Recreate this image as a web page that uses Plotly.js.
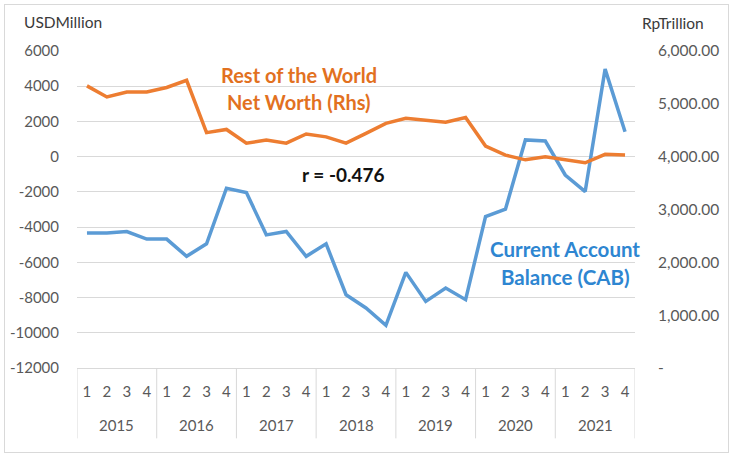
<!DOCTYPE html>
<html>
<head>
<meta charset="utf-8">
<script src="https://cdn.plot.ly/plotly-3.0.1.min.js"></script>
<style>
  html, body { margin: 0; padding: 0; background: #fff; }
  #wrap { position: relative; width: 732px; height: 457px; }
  #chart { width: 732px; height: 457px; }
  #frame { position: absolute; left: 4px; top: 4px; width: 723px; height: 447px;
           border: 1px solid #d9d9d9; pointer-events: none; }
</style>
</head>
<body>
<div id="wrap">
  <div id="chart"></div>
  <div id="frame"></div>
</div>
<script>
// Quarterly series, 2015Q1 - 2021Q4
const years = ["2015", "2016", "2017", "2018", "2019", "2020", "2021"];
const quarters = ["1", "2", "3", "4"];

// Current Account Balance, USD million (left axis)
const cab = [
  -4340, -4330, -4250, -4680,
  -4680, -5660, -4950, -1790,
  -2040, -4440, -4250, -5660,
  -4950, -7840, -8590, -9580,
  -6570, -8220, -7460, -8120,
  -3400, -2980, 950, 890,
  -1040, -1980, 4970, 1420
];

// Rest of the World net worth, Rp trillion (right axis)
const rowNetWorth = [
  5340, 5130, 5225, 5225,
  5310, 5445, 4455, 4515,
  4255, 4315, 4255, 4430,
  4375, 4255, 4440, 4630,
  4725, 4690, 4650, 4740,
  4200, 4030, 3940, 4000,
  3940, 3885, 4045, 4030
];

const leftTicks = [6000, 4000, 2000, 0, -2000, -4000, -6000, -8000, -10000, -12000];
const rightTicks = [0, 1000, 2000, 3000, 4000, 5000, 6000];
const rightTickText = ["-", "1,000.00", "2,000.00", "3,000.00", "4,000.00", "5,000.00", "6,000.00"];

// one slot per quarter; quarter numbers as tick labels, years grouped below
const xIdx = [], xQuarterText = [];
years.forEach(() => quarters.forEach(q => { xIdx.push(xIdx.length); xQuarterText.push(q); }));
const nQ = quarters.length;

const FONT = "Lato, 'Open Sans', sans-serif";
const ORANGE = "#ED7D31";
const BLUE = "#5B9BD5";
const GRID = "#d9d9d9";

const traces = [
  {
    x: xIdx, y: cab, type: "scatter", mode: "lines",
    line: { color: BLUE, width: 3.5 }, yaxis: "y", name: "CAB"
  },
  {
    x: xIdx, y: rowNetWorth, type: "scatter", mode: "lines",
    line: { color: ORANGE, width: 3.5 }, yaxis: "y2", name: "RoW Net Worth"
  }
];

// year group labels and the divider lines between year groups
const yearAnnotations = years.map((y, k) => ({
  text: y, xref: "x", yref: "paper", x: k * nQ + (nQ - 1) / 2, y: -0.181,
  xanchor: "center", yanchor: "middle", showarrow: false,
  font: { family: FONT, size: 15, color: "#595959" }
}));
const dividers = [];
for (let k = 0; k <= years.length; k++) {
  dividers.push({
    type: "line", xref: "x", yref: "paper",
    x0: k * nQ - 0.5, x1: k * nQ - 0.5, y0: 0, y1: -0.222,
    line: { color: GRID, width: 1 }
  });
}

const textAnn = (text, x, y, size, color) => ({
  text, xref: "paper", yref: "paper", x, y, xanchor: "center", yanchor: "middle",
  showarrow: false, font: { family: FONT, size, color, weight: "bold" }
});

const layout = {
  width: 732, height: 457,
  margin: { l: 77, r: 97, t: 51, b: 89 },
  paper_bgcolor: "#fff", plot_bgcolor: "#fff",
  showlegend: false,
  font: { family: FONT, size: 15, color: "#595959" },
  xaxis: {
    range: [-0.5, xIdx.length - 0.5],
    tickvals: xIdx, ticktext: xQuarterText,
    showline: true, linecolor: GRID, linewidth: 1,
    showgrid: false, zeroline: false, ticks: "",
    ticklabelstandoff: 10,
    tickfont: { family: FONT, size: 15, color: "#595959" }
  },
  yaxis: {
    range: [-12000, 6000], tickvals: leftTicks, ticktext: leftTicks.map(String),
    showgrid: true, gridcolor: GRID, gridwidth: 1,
    zeroline: false, showline: false, ticks: "",
    ticklabelstandoff: 17,
    tickfont: { family: FONT, size: 15, color: "#595959" }
  },
  yaxis2: {
    range: [0, 6000], overlaying: "y", side: "right",
    tickvals: rightTicks, ticktext: rightTickText,
    showgrid: false, zeroline: false, showline: false, ticks: "",
    ticklabelstandoff: 22,
    tickfont: { family: FONT, size: 15.5, color: "#595959" }
  },
  shapes: dividers,
  annotations: [
    { text: "USDMillion", xref: "paper", yref: "paper", x: (63 - 77) / 558, y: 1 + (51 - 22) / 317.5,
      xanchor: "center", yanchor: "middle", showarrow: false,
      font: { family: FONT, size: 15.5, color: "#3a3a3a" } },
    { text: "RpTrillion", xref: "paper", yref: "paper", x: (673 - 77) / 558, y: 1 + (51 - 23) / 317.5,
      xanchor: "center", yanchor: "middle", showarrow: false,
      font: { family: FONT, size: 15.5, color: "#3a3a3a" } },
    textAnn("Rest of the World", 0.398, 0.924, 20, "#E2711F"),
    textAnn("Net Worth (Rhs)", 0.398, 0.839, 20, "#E2711F"),
    textAnn("r = -0.476", 0.477, 0.609, 19, "#111"),
    textAnn("Current Account", 0.875, 0.376, 20.5, "#2E86D1"),
    textAnn("Balance (CAB)", 0.875, 0.288, 20.5, "#2E86D1")
  ].concat(yearAnnotations)
};

Plotly.newPlot("chart", traces, layout, { displayModeBar: false, staticPlot: true });
</script>
</body>
</html>
